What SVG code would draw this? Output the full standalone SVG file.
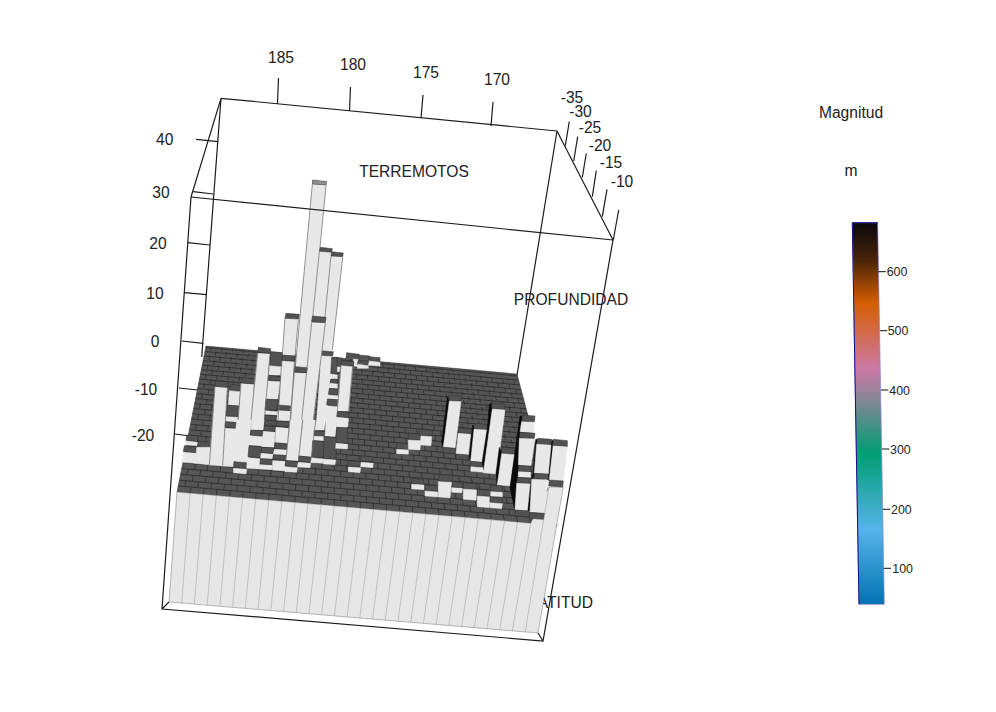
<svg xmlns="http://www.w3.org/2000/svg" width="996" height="712" viewBox="0 0 996 712">
<style>
text{font-family:"Liberation Sans",Arial,sans-serif;font-size:15.6px;fill:#222;text-anchor:middle}
.s{font-size:12.4px;text-anchor:start}
.f{fill:none;stroke:#1c1c1c;stroke-width:1.2}
polygon{vector-effect:non-scaling-stroke;stroke-width:.5}
.l{fill:#e8e8e8;stroke:#e8e8e8}
.d{fill:#525252;stroke:#2e2e2e}
.k{fill:#0a0a0a;stroke:#0a0a0a}
.e{fill:none;stroke:#6a6a6a;stroke-width:.7;vector-effect:non-scaling-stroke}
.a{fill:none;stroke:#2a2a2a;stroke-width:.7;stroke-dasharray:6.15 6 6 6 5.85 5.85 5.7 5.85 5.55 5.55 5.55 5.55 5.4 5.4 5.25 5.25 5.1 5.1 5.1 4.95 4.8 4.95 4.8 4.65 4.65 4.65 4.65 4.2 1.5}
.b{fill:none;stroke:#2a2a2a;stroke-width:.7;stroke-dasharray:0 6.15 6 6 6 5.85 5.85 5.7 5.85 5.55 5.55 5.55 5.55 5.4 5.4 5.25 5.25 5.1 5.1 5.1 4.95 4.8 4.95 4.8 4.65 4.65 4.65 4.65 4.2 1.5}
</style>
<defs>
<linearGradient id="cb" x1="0" y1="0" x2="0" y2="1">
<stop offset="0" stop-color="#07070c"/><stop offset=".1" stop-color="#4a2408"/><stop offset=".21" stop-color="#d55e00"/><stop offset=".386" stop-color="#cc79a7"/><stop offset=".604" stop-color="#009e73"/><stop offset=".805" stop-color="#56b4e9"/><stop offset="1" stop-color="#0072b2"/>
</linearGradient>
</defs>
<rect width="996" height="712" fill="#fff"/>
<g id="labels">
<text x="414" y="176.500">TERREMOTOS</text>
<text x="851" y="118">Magnitud</text>
<text x="851" y="175.500">m</text>
<text x="593" y="607.500" style="text-anchor:end">ATITUD</text>
</g>
<g id="box-back">
<path class="f" d="M221 98.300 557 131M221 98.300 191 197M221 98.300 201.700 357M557 131 613 240M557 131 517 375"/>
<path class="f" d="M277.500 104 278.500 78M349.500 111 350.500 87M421 118 423 95M491 126 493 102M565.300 145.700 569.300 121.700M573.700 161 577.700 136.700M582.300 177.300 586.300 153.300M592.300 196.700 596.300 170.700M602.300 216.700 607 189.300M613.300 240 618.700 210"/>
<path class="f" d="M196 139.300 218.300 141.700M193.300 191.700 213.300 194M187.700 242.700 210 245M184.300 292.700 206.700 294.700M181.700 341 203.300 343.300M179 388 198 390M175 434 190 436"/>
</g>
<g id="axis-text">
<text x="281" y="62.500">185</text><text x="353" y="69.500">180</text><text x="426" y="77.500">175</text><text x="497" y="84.500">170</text>
<text x="572" y="102.500">-35</text><text x="580.500" y="117">-30</text><text x="590" y="133">-25</text><text x="600" y="150.500">-20</text><text x="611" y="167.500">-15</text><text x="622" y="186.500">-10</text>
<text x="164.700" y="145">40</text><text x="161" y="197.500">30</text><text x="158" y="248.500">20</text><text x="155" y="298.500">10</text><text x="155" y="346.500">0</text><text x="146" y="394.500">-10</text><text x="143" y="440.500">-20</text>
</g>
<g id="floor">
<polygon points="206,346 517,374 557,525.500 177,492" fill="#565656" stroke="#333"/>
<path fill="none" stroke="#2a2a2a" stroke-width=".8" d="M178.200 486 555.400 519.300M179.300 480.200 553.800 513.300M180.500 474.300 552.200 507.200M181.700 468.500 550.600 501.200M182.800 462.800 549 495.300M183.900 457.100 547.400 489.400M185 451.600 545.900 483.700M186.200 445.900 544.400 477.800M187.200 440.500 542.900 472.200M188.300 435.100 541.400 466.600M189.400 429.700 539.900 461M190.500 424.300 538.400 455.400M191.500 419 537 450M192.500 413.700 535.600 444.600M193.600 408.600 534.200 439.300M194.600 403.500 532.800 434M195.600 398.600 531.400 428.900M196.500 393.600 530 423.700M197.500 388.600 528.700 418.600M198.500 383.800 527.400 413.600M199.400 379.100 526.100 408.800M200.400 374.300 524.800 403.800M201.300 369.600 523.500 399M202.200 365.100 522.200 394.300M203.100 360.600 521 389.600M204 356 519.800 384.900M204.900 351.500 518.500 380.200M205.700 347.500 517.400 376"/>
<path class="a" d="M190.100 493.200 216.700 347M203.200 494.300 227.400 347.900M216.300 495.500 238.200 348.900M229.400 496.600 248.900 349.900M242.500 497.800 259.600 350.800M255.600 498.900 270.300 351.800M268.700 500.100 281 352.800M281.800 501.200 291.800 353.700M294.900 502.400 302.500 354.700M308 503.600 313.200 355.700M321.100 504.700 323.900 356.600M334.200 505.900 334.600 357.600M347.300 507 345.400 358.600M360.400 508.200 356.100 359.500M373.500 509.300 366.800 360.500M386.600 510.500 377.500 361.500M399.700 511.600 388.200 362.400M412.800 512.800 399 363.400M425.900 513.900 409.700 364.400M439 515.100 420.400 365.300M452.100 516.300 431.100 366.300M465.200 517.400 441.800 367.300M478.300 518.600 452.600 368.200M491.400 519.700 463.300 369.200M504.500 520.900 474 370.200M517.600 522 484.700 371.100M530.700 523.200 495.400 372.100M543.800 524.300 506.200 373"/>
<path class="b" d="M183.600 492.600 211.400 346.500M196.700 493.700 222.100 347.400M209.800 494.900 232.800 348.400M222.900 496 243.500 349.400M236 497.200 254.200 350.300M249.100 498.400 265 351.300M262.200 499.500 275.700 352.300M275.300 500.700 286.400 353.200M288.400 501.800 297.100 354.200M301.500 503 307.800 355.200M314.600 504.100 318.600 356.100M327.700 505.300 329.300 357.100M340.800 506.400 340 358.100M353.900 507.600 350.700 359M367 508.700 361.400 360M380.100 509.900 372.200 361M393.200 511.100 382.900 361.900M406.300 512.200 393.600 362.900M419.400 513.400 404.300 363.900M432.500 514.500 415 364.800M445.600 515.700 425.800 365.800M458.700 516.800 436.500 366.800M471.800 518 447.200 367.700M484.900 519.100 457.900 368.700M498 520.300 468.600 369.700M511.100 521.500 479.400 370.600M524.200 522.600 490.100 371.600M537.300 523.800 500.800 372.500M550.400 524.900 511.500 373.500"/>
</g>
<g id="wall">
<polygon points="177,492 530.700,523.200 549,487 563.300,487 538,633 169,602" fill="#e6e6e6" stroke="#777"/>
<path fill="none" stroke="#a6a6a6" stroke-width=".6" d="M190.100 493.200 181.700 603.100M203.200 494.300 194.400 604.100M216.300 495.500 207.200 605.200M229.400 496.600 219.900 606.300M242.500 497.800 232.600 607.400M255.600 498.900 245.300 608.400M268.700 500.100 258 609.500M281.800 501.200 270.800 610.600M294.900 502.400 283.500 611.600M308 503.600 296.200 612.700M321.100 504.700 308.900 613.800M334.200 505.900 321.600 614.800M347.300 507 334.400 615.900M360.400 508.200 347.100 617M373.500 509.300 359.800 618.100M386.600 510.500 372.500 619.100M399.700 511.600 385.200 620.200M412.800 512.800 398 621.300M425.900 513.900 410.700 622.300M439 515.100 423.400 623.400M452.100 516.300 436.100 624.500M465.200 517.400 448.800 625.500M478.300 518.600 461.600 626.600M491.400 519.700 474.300 627.700M504.500 520.900 487 628.800M517.600 522 499.700 629.800M530.700 523.200 512.400 630.900M549 487 525.200 632"/>
</g>
<g id="bars">
<g transform="translate(150 330) scale(.33333)">
<polygon class="d" points="110,315 145,318 143,335 108,332"/><polygon class="l" points="108,333 143,337 141,347 105,345"/>
<polygon class="d" points="103,347 142,350 140,368 100,365"/><polygon class="l" points="100,367 140,370 138,400 98,397"/>
<polygon class="d" points="145,333 182,337 180,352 142,350"/><polygon class="l" points="140,352 180,352 180,405 136,400"/>
<polygon class="l" points="195,170 232,173 218,408 178,405"/><polygon class="d" points="197,152 236,156 233,172 195,169"/>
<polygon class="d" points="241,163 273,167 270,183 239,180"/><polygon class="l" points="238,182 270,185 266,227 235,225"/>
<polygon class="d" points="232,225 266,228 263,260 229,258"/><polygon class="l" points="228,260 263,262 262,277 227,274"/>
<polygon class="d" points="227,275 262,278 261,295 225,292"/><polygon class="l" points="225,295 260,297 252,410 216,408"/>
<polygon class="l" points="273,160 313,163 295,408 254,404"/><polygon class="d" points="276,143 316,147 313,162 273,159"/>
<path class="e" d="M195 170 178 405M232 173 218 408M273 160 254 404M313 163 295 408"/>
</g>
<g transform="translate(270 170) scale(.33333)">
<polygon class="l" points="127,43 168,47 112,600 75,600"/><polygon points="128,30 170,35 168,45 127,42" fill="#8f8f8f" stroke="#222"/>
<polygon class="l" points="148,245 185,248 155,600 112,600"/><polygon class="d" points="150,232 187,236 185,247 148,244"/>
<polygon class="l" points="183,258 218,262 187,540 155,540"/><polygon class="d" points="185,245 220,249 218,260 183,258"/>
<path class="e" d="M127 43 75 600M168 47 150 232M148 245 112 600M183 258 155 540M218 262 187 540"/>
</g>
<g transform="translate(250 300) scale(.33333)">
<polygon class="l" points="214,168 248,170 228,360 200,360"/><polygon class="d" points="216,152 250,155 248,168 214,166"/>
<polygon class="l" points="185,68 226,70 190,360 155,360"/><polygon class="d" points="187,48 228,52 226,68 185,66"/>
<polygon class="l" points="133,218 170,220 155,360 120,360"/><polygon class="d" points="135,200 172,203 170,218 133,216"/>
<polygon class="l" points="105,55 145,58 135,168 97,165"/><polygon class="d" points="108,40 148,43 146,57 105,55"/>
<polygon class="d" points="97,165 135,168 133,183 95,181"/><polygon class="l" points="95,183 133,186 122,360 84,360"/>
<polygon class="d" points="85,315 122,318 120,333 82,330"/><polygon class="l" points="83,333 120,335 118,362 80,360"/>
<polygon class="l" points="23,160 60,162 43,360 3,360"/><polygon class="d" points="25,142 62,146 60,160 23,157"/>
<polygon class="d" points="62,155 97,158 95,198 60,196"/><polygon class="l" points="58,197 95,200 92,225 57,225"/>
<polygon class="d" points="57,226 92,230 90,243 55,240"/><polygon class="l" points="53,243 90,245 83,297 48,297"/>
<polygon class="d" points="48,297 85,300 80,330 45,330"/><polygon class="l" points="47,332 80,335 80,345 45,343"/>
<polygon class="d" points="45,345 80,348 77,362 43,360"/>
<polygon class="d" points="245,172 262,172 262,222 242,222"/><polygon class="d" points="262,172 275,175 272,218 262,218"/><polygon class="l" points="262,200 270,202 268,215 262,215"/>
<polygon class="l" points="242,222 262,225 262,236 240,236"/><polygon class="d" points="243,238 265,238 262,250 240,250"/>
<polygon class="l" points="240,250 262,252 262,265 238,264"/><polygon class="d" points="238,265 268,268 268,285 235,283"/>
<polygon class="l" points="235,285 268,288 268,298 232,296"/><polygon class="d" points="232,297 268,300 266,317 230,315"/>
<polygon class="l" points="230,317 265,320 261,360 226,360"/>
<polygon class="d" points="290,158 328,163 325,177 288,175"/><polygon class="l" points="310,178 325,178 325,200 312,198"/>
<polygon class="d" points="325,165 360,168 358,180 325,178"/><polygon class="d" points="325,180 358,183 357,195 322,193"/><polygon class="l" points="325,193 355,197 355,205 322,205"/>
<polygon class="d" points="358,170 390,173 390,185 358,182"/><polygon class="l" points="358,183 390,187 390,198 355,196"/>
<polygon class="d" points="275,182 312,185 310,198 273,196"/><polygon class="l" points="273,197 308,200 296,333 262,333"/>
<polygon class="d" points="262,334 297,337 295,353 260,350"/><polygon class="l" points="260,352 295,355 293,380 260,380"/>
<path class="e" d="M23 160 3 360M60 162 43 360M105 55 97 165M145 58 135 168M95 183 84 360M133 186 122 360M185 68 155 360M226 70 190 360M273 197 262 333M308 200 296 333M133 218 120 360"/>
</g>
<g transform="translate(220 420) scale(.33333)">
<polygon class="l" points="50,0 92,0 80,125 40,122"/>
<polygon class="d" points="42,125 82,128 80,146 40,143"/><polygon class="l" points="40,145 80,148 78,162 40,158"/>
<polygon class="l" points="95,0 133,0 130,30 93,30"/><polygon class="d" points="93,30 130,32 128,47 90,45"/><polygon class="l" points="90,47 128,50 125,78 87,75"/><polygon class="d" points="87,77 125,80 122,113 84,110"/><polygon class="l" points="82,113 120,116 118,147 80,145"/>
<polygon class="d" points="135,0 170,3 168,17 133,15"/><polygon class="d" points="133,17 168,20 165,33 131,32"/><polygon class="l" points="130,34 165,37 162,82 125,80"/><polygon class="d" points="125,82 162,84 160,100 123,98"/><polygon class="l" points="123,100 160,103 158,117 122,115"/><polygon class="d" points="122,116 158,118 157,133 120,132"/><polygon class="l" points="120,134 157,136 155,149 118,147"/>
<polygon class="d" points="170,3 208,6 205,20 168,18"/><polygon class="l" points="168,22 205,25 202,70 165,68"/><polygon class="d" points="165,68 202,72 200,88 163,86"/><polygon class="l" points="163,88 200,90 198,105 160,103"/><polygon class="d" points="160,104 198,107 197,120 158,118"/><polygon class="l" points="158,122 197,124 195,153 157,150"/>
<polygon class="l" points="210,0 248,0 235,122 198,120"/><polygon class="d" points="197,122 235,125 232,140 195,138"/><polygon class="l" points="195,140 232,143 230,157 195,155"/>
<polygon class="l" points="250,0 287,0 275,110 237,107"/><polygon class="d" points="237,108 275,112 272,127 235,125"/><polygon class="l" points="235,127 272,130 270,143 232,141"/>
<polygon class="l" points="290,0 317,0 312,30 282,30"/><polygon class="d" points="282,32 315,35 312,48 282,47"/><polygon class="l" points="282,48 312,50 312,62 280,60"/><polygon class="d" points="278,62 312,65 310,112 275,112"/><polygon class="l" points="275,113 310,117 308,130 272,128"/>
<polygon class="l" points="318,0 352,0 345,50 315,48"/><polygon class="d" points="312,50 350,52 348,117 310,115"/><polygon class="l" points="310,117 347,120 345,134 310,132"/>
<polygon class="l" points="353,0 385,0 380,22 350,20"/><polygon class="d" points="350,22 383,25 383,70 348,68"/><polygon class="l" points="348,70 383,73 382,87 347,85"/>
<polygon class="d" points="385,122 422,125 420,140 383,138"/><polygon class="l" points="385,141 422,143 420,158 385,155"/>
<polygon class="d" points="423,108 460,110 458,125 421,123"/><polygon class="l" points="423,127 460,130 458,143 422,140"/>
<path class="e" d="M210 0 198 120M248 0 235 122M287 0 275 110"/>
</g>
<g transform="translate(360 340) scale(.33333)">
<polygon class="d" points="110,308 147,311 145,328 110,326"/><polygon class="l" points="110,328 145,330 145,343 110,341"/>
<polygon class="d" points="145,280 185,283 182,300 145,298"/><polygon class="l" points="145,300 182,302 180,330 145,328"/>
<polygon class="d" points="178,268 218,271 215,288 178,286"/><polygon class="l" points="183,288 215,290 213,317 180,315"/>
<polygon class="k" points="262,170 268,183 250,322 245,305"/>
<polygon class="d" points="268,165 305,168 303,183 268,181"/><polygon class="l" points="268,183 303,185 285,325 250,322"/><polygon class="d" points="250,322 288,325 286,340 248,338"/>
<polygon class="d" points="298,265 335,268 332,281 295,279"/><polygon class="l" points="295,280 332,283 325,345 288,342"/><polygon class="d" points="288,342 325,345 325,360 288,358"/>
<polygon class="k" points="338,255 343,268 332,365 328,350"/>
<polygon class="d" points="342,250 382,253 382,270 342,267"/><polygon class="l" points="342,268 382,270 368,367 332,364"/><polygon class="d" points="332,364 370,367 370,381 330,378"/><polygon class="l" points="333,380 370,383 370,397 332,394"/>
<polygon class="k" points="388,192 397,190 397,207 372,390 366,368 382,265"/>
<polygon class="d" points="395,190 435,193 435,208 395,205"/><polygon class="l" points="397,207 435,210 410,402 370,398"/>
<polygon class="k" points="418,322 425,340 412,435 408,400"/>
<polygon class="d" points="425,322 465,325 465,342 425,340"/><polygon class="l" points="425,341 465,344 450,438 412,435"/>
<polygon class="d" points="152,415 190,418 192,433 155,431"/><polygon class="l" points="155,433 192,435 192,449 155,447"/>
<polygon class="d" points="195,435 235,438 233,454 195,452"/><polygon class="l" points="195,453 233,456 233,471 195,468"/>
<polygon class="d" points="238,403 278,406 275,425 235,423"/><polygon class="l" points="235,425 275,427 270,474 235,471"/>
<polygon class="d" points="278,425 310,428 307,443 275,441"/><polygon class="l" points="275,443 307,445 305,459 275,457"/>
<polygon class="d" points="310,428 350,431 350,448 310,446"/><polygon class="l" points="310,447 350,450 348,481 310,478"/>
<polygon class="d" points="352,448 392,451 390,469 352,467"/><polygon class="l" points="352,468 390,471 388,503 352,500"/>
<polygon class="d" points="390,435 427,438 427,456 392,454"/><polygon class="l" points="392,455 427,457 427,471 392,469"/><polygon class="d" points="390,470 427,472 427,489 390,487"/><polygon class="l" points="390,488 427,491 425,506 390,503"/>
</g>
<g transform="translate(490 400) scale(.33333)">
<polygon class="k" points="90,48 97,48 75,332 60,262"/>
<polygon class="k" points="137,118 143,118 135,215 126,240 118,337 113,330 125,235 130,215"/>
<polygon class="k" points="184,122 190,120 178,242 170,240"/>
<polygon class="d" points="97,45 135,48 133,66 95,63"/><polygon class="l" points="95,65 133,67 130,98 90,95"/><polygon class="d" points="90,97 135,100 133,115 88,113"/>
<polygon class="l" points="88,115 135,117 123,197 85,194"/><polygon class="d" points="85,197 123,199 122,215 85,213"/><polygon class="l" points="85,215 122,217 122,233 85,231"/><polygon class="d" points="83,232 122,234 120,250 80,248"/><polygon class="l" points="80,250 120,252 112,332 75,329"/>
<polygon class="d" points="75,330 120,333 118,350 75,348"/>
<polygon class="d" points="143,115 185,118 183,135 140,133"/><polygon class="l" points="140,133 183,136 175,222 133,219"/><polygon class="d" points="133,220 175,222 175,238 133,236"/><polygon class="l" points="125,238 175,240 160,340 120,337"/><polygon class="d" points="120,337 163,340 160,358 118,355"/>
<polygon class="d" points="190,118 232,122 232,140 188,137"/><polygon class="l" points="190,138 232,141 220,242 178,239"/><polygon class="d" points="178,240 220,243 218,261 176,258"/>
</g>
</g>
<g id="box-front">
<path class="f" d="M191 197 613 240M191 197 162 609 543 641 613 240M162 609 169 602M543 641 538 633"/>
</g>
<text x="571" y="304.500">PROFUNDIDAD</text>
<g id="legend">
<polygon points="852.300,222.700 877.700,222.700 884.300,604.300 859,604.300" fill="url(#cb)" stroke="#8a7fd0" style="stroke-width:.7"/>
<path d="M859 604.300 852.300 222.700 877.700 222.700" fill="none" stroke="#10108a" stroke-width="1"/>
<path fill="none" stroke="#111" d="M878.300 271.700H886M880 330.700H887.300M881 390H888.300M882 449H889.300M882.700 509.300H890.300M883.700 568.300H891"/>
<text class="s" x="886.700" y="276">600</text><text class="s" x="887.700" y="335">500</text><text class="s" x="889.300" y="394.500">400</text><text class="s" x="890" y="453.500">300</text><text class="s" x="891" y="513.500">200</text><text class="s" x="892.300" y="572.500">100</text>
</g>
</svg>
